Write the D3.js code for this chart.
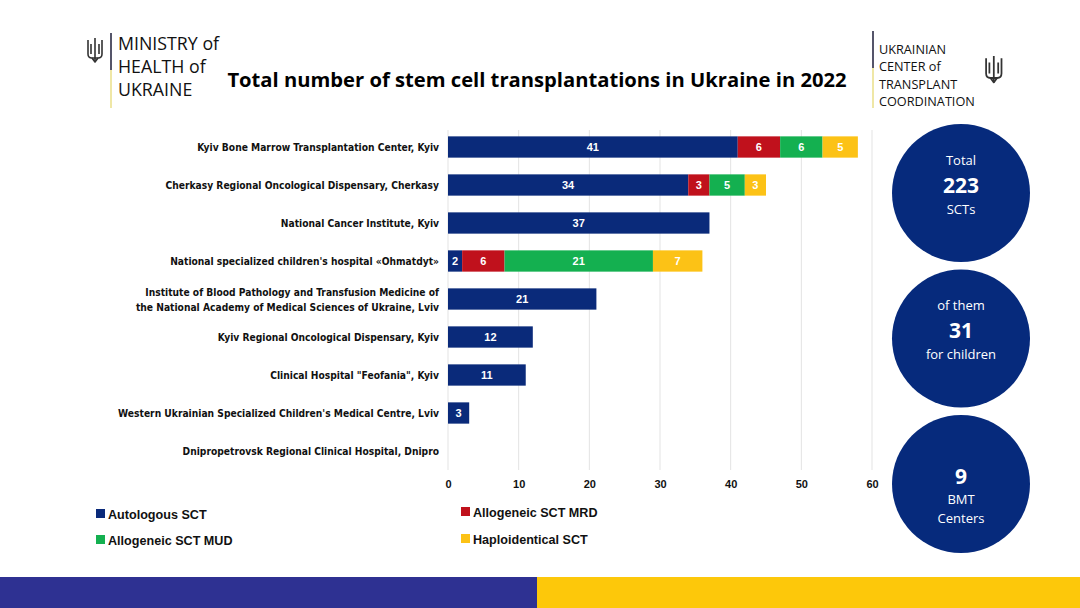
<!DOCTYPE html>
<html>
<head>
<meta charset="utf-8">
<script src="https://cdn.jsdelivr.net/npm/d3@7"></script>
<style>
  body { margin: 0; background: #fff; }
  svg { display: block; }
</style>
</head>
<body>
<svg id="chart" width="1080" height="608"></svg>
<script>
// centers, top to bottom
var centers = [
  ["Kyiv Bone Marrow Transplantation Center, Kyiv"],
  ["Cherkasy Regional Oncological Dispensary, Cherkasy"],
  ["National Cancer Institute, Kyiv"],
  ["National specialized children's hospital «Ohmatdyt»"],
  ["Institute of Blood Pathology and Transfusion Medicine of", "the National Academy of Medical Sciences of Ukraine, Lviv"],
  ["Kyiv Regional Oncological Dispensary, Kyiv"],
  ["Clinical Hospital \"Feofania\", Kyiv"],
  ["Western Ukrainian Specialized Children's Medical Centre, Lviv"],
  ["Dnipropetrovsk Regional Clinical Hospital, Dnipro"]
];
var autologous = [41, 34, 37, 2, 21, 12, 11, 3, 0];
var alloMRD    = [6, 3, 0, 6, 0, 0, 0, 0, 0];
var alloMUD    = [6, 5, 0, 21, 0, 0, 0, 0, 0];
var haplo      = [5, 3, 0, 7, 0, 0, 0, 0, 0];
var seriesNames = ["Autologous SCT", "Allogeneic SCT MRD", "Allogeneic SCT MUD", "Haploidentical SCT"];
var seriesColors = ["#0a2a7a", "#c0111c", "#14b050", "#fcc216"];
var xTicks = [0, 10, 20, 30, 40, 50, 60];

var bubbles = [
  {top: "Total", big: "223", bottom: ["SCTs"]},
  {top: "of them", big: "31", bottom: ["for children"]},
  {top: null, big: "9", bottom: ["BMT", "Centers"]}
];

var svg = d3.select("#chart");
var font = "'Liberation Sans', Arial, sans-serif";

// table for the stack
var rows = centers.map(function(c, i) {
  return {name: c, i: i, s0: autologous[i], s1: alloMRD[i], s2: alloMUD[i], s3: haplo[i]};
});
var stack = d3.stack().keys(["s0", "s1", "s2", "s3"])(rows);

var x = d3.scaleLinear().domain([0, 60]).range([448, 872]);
var y = d3.scaleBand().domain(d3.range(centers.length)).range([128, 470]).paddingInner(0.44).paddingOuter(0.22);

// grid
svg.append("g").selectAll("line").data(xTicks).join("line")
  .attr("x1", function(d) { return x(d); }).attr("x2", function(d) { return x(d); })
  .attr("y1", 130).attr("y2", 470)
  .attr("stroke", "#e3e3e3").attr("stroke-width", 1);

// axis
var axis = svg.append("g").attr("transform", "translate(0,470)")
  .call(d3.axisBottom(x).tickValues(xTicks).tickSize(0).tickPadding(10));
axis.select(".domain").remove();
axis.selectAll("text").attr("font-family", font).attr("font-weight", "bold")
  .attr("font-size", 11).attr("fill", "#111");

// bars
var layer = svg.append("g").selectAll("g").data(stack).join("g")
  .attr("fill", function(d, k) { return seriesColors[k]; });
layer.selectAll("rect").data(function(d) { return d; }).join("rect")
  .attr("x", function(d) { return x(d[0]); })
  .attr("width", function(d) { return x(d[1]) - x(d[0]); })
  .attr("y", function(d) { return y(d.data.i); })
  .attr("height", y.bandwidth());

layer.selectAll("text").data(function(d) { return d.filter(function(v) { return v[1] > v[0]; }); }).join("text")
  .attr("x", function(d) { return (x(d[0]) + x(d[1])) / 2; })
  .attr("y", function(d) { return y(d.data.i) + y.bandwidth() / 2; })
  .attr("dy", "0.36em").attr("text-anchor", "middle")
  .attr("fill", "#fff").attr("font-family", font).attr("font-weight", "bold").attr("font-size", 11)
  .text(function(d) { return d[1] - d[0]; });

// category labels
var labels = svg.append("g").selectAll("text").data(rows).join("text")
  .attr("text-anchor", "end")
  .attr("font-family", "'DejaVu Sans Condensed', 'DejaVu Sans', sans-serif")
  .attr("font-weight", "bold").attr("font-size", 10.2).attr("fill", "#111")
  .attr("x", 439)
  .attr("y", function(d) { return y(d.i) + y.bandwidth() / 2 + 4 - (d.name.length - 1) * 7.5; });
labels.selectAll("tspan").data(function(d) { return d.name; }).join("tspan")
  .attr("x", 439).attr("dy", function(d, k) { return k ? 15 : 0; })
  .text(function(d) { return d; });

// legend
var legendPos = [[96, 514], [461, 512], [96, 540], [461, 539]];
var legend = svg.append("g").selectAll("g").data(seriesNames).join("g")
  .attr("transform", function(d, k) { return "translate(" + legendPos[k][0] + "," + legendPos[k][1] + ")"; });
legend.append("rect").attr("x", 0).attr("y", -5).attr("width", 9).attr("height", 9)
  .attr("fill", function(d, k) { return seriesColors[k]; });
legend.append("text").attr("x", 12).attr("dy", "0.36em")
  .attr("font-family", font).attr("font-weight", "bold").attr("font-size", 12.6).attr("fill", "#111")
  .text(function(d) { return d; });

// bubbles on the right
var by = d3.scalePoint().domain(d3.range(bubbles.length)).range([193, 484]);
var bub = svg.append("g").selectAll("g").data(bubbles).join("g")
  .attr("transform", function(d, k) { return "translate(961," + by(k) + ")"; });
bub.append("circle").attr("r", 69).attr("fill", "#062a7c");
bub.each(function(d) {
  var g = d3.select(this);
  var sans = "'Open Sans', 'Noto Sans', sans-serif";
  var lines = [];
  if (d.top) lines.push({t: d.top, big: false});
  lines.push({t: d.big, big: true});
  d.bottom.forEach(function(b) { lines.push({t: b, big: false}); });
  var offs = d.top ? [-33, -8, 16] : [-8, 15, 34];
  lines.forEach(function(l, k) {
    g.append("text").attr("text-anchor", "middle").attr("y", offs[k])
      .attr("dy", "0.36em")
      .attr("font-family", sans).attr("fill", "#fff")
      .attr("font-weight", l.big ? "bold" : "normal")
      .attr("font-size", l.big ? 21 : 13)
      .text(l.t);
  });
});

// title
svg.append("text").attr("x", 537).attr("y", 80).attr("dy", "0.36em").attr("text-anchor", "middle")
  .attr("font-family", "'Open Sans', sans-serif").attr("font-weight", "bold").attr("font-size", 20.2)
  .attr("fill", "#000")
  .text("Total number of stem cell transplantations in Ukraine in 2022");

// trident mark
function trident(gx, gy, s) {
  var g = svg.append("g").attr("transform", "translate(" + gx + "," + gy + ") scale(" + s + ")")
    .attr("fill", "none").attr("stroke", "#333").attr("stroke-width", 1.6).attr("stroke-linejoin", "round");
  g.append("path").attr("d", "M1,2 L1,16 Q1,20 5,20 L11,20 Q15,20 15,16 L15,2");
  g.append("path").attr("d", "M8,0 L8,24");
  g.append("path").attr("d", "M4,6 L4,16 M12,6 L12,16");
  g.append("path").attr("d", "M5,20 L8,24 L11,20");
}

// left header
trident(87, 38, 1);
svg.append("line").attr("x1", 111).attr("x2", 111).attr("y1", 33).attr("y2", 70).attr("stroke", "#55556a").attr("stroke-width", 2);
svg.append("line").attr("x1", 111).attr("x2", 111).attr("y1", 70).attr("y2", 108).attr("stroke", "#efe7a6").attr("stroke-width", 2);
svg.append("g").selectAll("text").data(["MINISTRY of", "HEALTH of", "UKRAINE"]).join("text")
  .attr("x", 118).attr("y", function(d, k) { return 50 + k * 23; })
  .attr("font-family", "'Open Sans', sans-serif").attr("font-size", 17.8).attr("fill", "#111")
  .text(function(d) { return d; });

// right header
svg.append("line").attr("x1", 873).attr("x2", 873).attr("y1", 31).attr("y2", 68).attr("stroke", "#55556a").attr("stroke-width", 2);
svg.append("line").attr("x1", 873).attr("x2", 873).attr("y1", 68).attr("y2", 108).attr("stroke", "#efe7a6").attr("stroke-width", 2);
svg.append("g").selectAll("text").data(["UKRAINIAN", "CENTER of", "TRANSPLANT", "COORDINATION"]).join("text")
  .attr("x", 879).attr("y", function(d, k) { return 54 + k * 17.3; })
  .attr("font-family", "'Open Sans', sans-serif").attr("font-size", 12.7).attr("fill", "#111")
  .text(function(d) { return d; });
trident(985, 56, 1.1);

// bottom band
svg.append("rect").attr("x", 0).attr("y", 577).attr("width", 537).attr("height", 31).attr("fill", "#2e3192");
svg.append("rect").attr("x", 537).attr("y", 577).attr("width", 543).attr("height", 31).attr("fill", "#fdc80a");
</script>
</body>
</html>
